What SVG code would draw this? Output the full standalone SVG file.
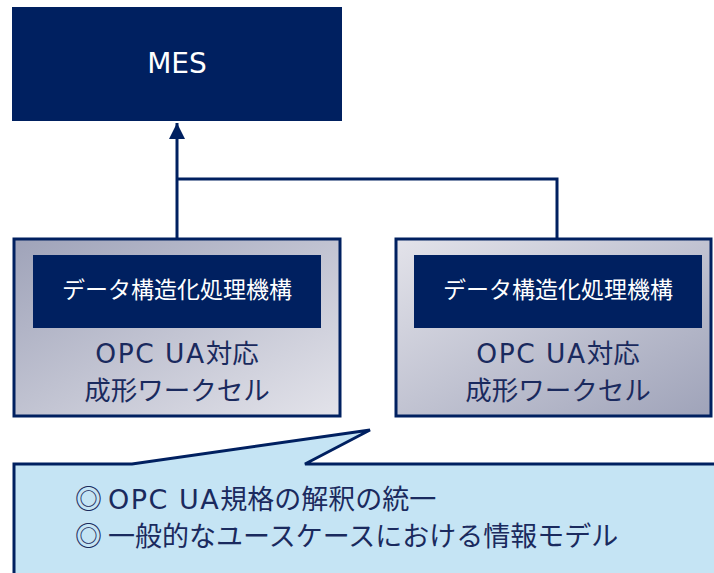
<svg xmlns="http://www.w3.org/2000/svg" width="714" height="573" viewBox="0 0 714 573">
<style>
.navy{fill:#002060}
.t{font-family:"Noto Sans CJK JP","Noto Sans",sans-serif;text-anchor:middle}
.lat{font-family:"DejaVu Sans","Noto Sans CJK JP",sans-serif}
.w{fill:#ffffff}
.cell{stroke:#002060;stroke-width:3}
.lbl{fill:#1a2a5e;font-size:26.5px}
.co{font-family:"Noto Sans CJK JP","Noto Sans",sans-serif;font-size:27px;fill:#1a2a5e}
.conn{stroke:#002060;stroke-width:3;fill:none}
</style>
<defs>
<linearGradient id="gL" x1="0" y1="0" x2="1" y2="1">
<stop offset="0" stop-color="#9fa3b9"/>
<stop offset="1" stop-color="#e3e3ea"/>
</linearGradient>
<linearGradient id="gR" x1="0" y1="0" x2="1" y2="1">
<stop offset="0" stop-color="#e3e3ea"/>
<stop offset="1" stop-color="#9fa3b9"/>
</linearGradient>
<marker id="ah" markerUnits="userSpaceOnUse" markerWidth="18" markerHeight="16" refX="16" refY="8" orient="auto">
<path d="M0,0 L16,8 L0,16 Z" fill="#002060"/>
</marker>
</defs>
<g id="connectors">
<path class="conn" d="M177,238 V123" marker-end="url(#ah)"/>
<path class="conn" d="M177,179 H557 V238"/>
</g>
<g id="mes">
<rect x="12" y="7" width="330" height="114" class="navy"/>
<text x="177" y="73" class="t lat w" font-size="28">MES</text>
</g>
<g id="cell-left">
<rect x="14" y="239" width="326" height="177" fill="url(#gL)" class="cell"/>
<rect x="33" y="255" width="288" height="73" class="navy"/>
<text x="177" y="298" class="t w" font-size="23">データ構造化処理機構</text>
<text x="177" y="363" class="t lbl"><tspan class="lat" letter-spacing="1.5">OPC UA</tspan>対応</text>
<text x="177" y="400" class="t lbl">成形ワークセル</text>
</g>
<g id="cell-right">
<rect x="396" y="239" width="315" height="177" fill="url(#gR)" class="cell"/>
<rect x="414" y="255" width="288" height="73" class="navy"/>
<text x="558" y="298" class="t w" font-size="23">データ構造化処理機構</text>
<text x="558" y="363" class="t lbl"><tspan class="lat" letter-spacing="1.5">OPC UA</tspan>対応</text>
<text x="558" y="400" class="t lbl">成形ワークセル</text>
</g>
<g id="callout">
<path d="M14,580 V464 H132 L370,430 L305,464 H720 V580 Z" fill="#c5e4f4" stroke="#002060" stroke-width="3"/>
<text x="75" y="509" class="co">◎ <tspan class="lat" letter-spacing="1.5">OPC UA</tspan>規格の解釈の統一</text>
<text x="75" y="546" class="co">◎ 一般的なユースケースにおける情報モデル</text>
</g>
</svg>
